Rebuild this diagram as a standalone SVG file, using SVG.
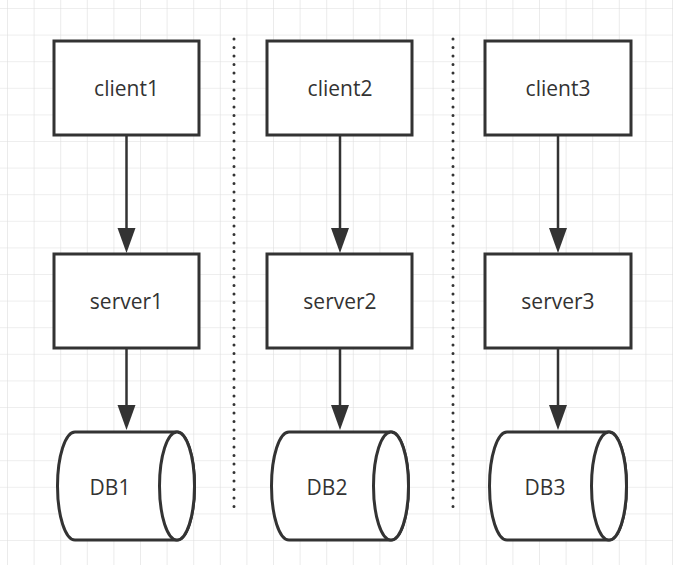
<svg xmlns="http://www.w3.org/2000/svg" width="673" height="565" viewBox="0 0 673 565">
<defs>
<pattern id="grid" x="7" y="8" width="26.6" height="26.6" patternUnits="userSpaceOnUse">
<path d="M0 0H26.6M0 0V26.6" fill="none" stroke="#dedede" stroke-width="1.2"/>
</pattern>
</defs>
<style>
.box{fill:#fff;stroke:#333;stroke-width:3}
.t{font-family:"Open Sans","Noto Sans",sans-serif;font-size:21px;fill:#333;text-anchor:middle;dominant-baseline:central}
.ln{stroke:#333;stroke-width:2.5;fill:none}
.ah{fill:#333}
.dot{stroke:#333;stroke-width:3;stroke-dasharray:0 8.5;stroke-linecap:round}
</style>
<rect width="673" height="565" fill="#fff"/>
<rect width="673" height="565" fill="url(#grid)"/>
<g id="separators">
<line class="dot" x1="234" y1="39" x2="234" y2="515"/>
<line class="dot" x1="453" y1="39" x2="453" y2="515"/>
</g>
<g id="connectors">
<line class="ln" x1="126.5" y1="136" x2="126.5" y2="230"/><path class="ah" d="M117.5 228H135.5L126.5 253z"/>
<line class="ln" x1="126.5" y1="349" x2="126.5" y2="408"/><path class="ah" d="M117.5 405H135.5L126.5 430z"/>
<line class="ln" x1="340" y1="136" x2="340" y2="230"/><path class="ah" d="M331 228H349L340 253z"/>
<line class="ln" x1="340" y1="349" x2="340" y2="408"/><path class="ah" d="M331 405H349L340 430z"/>
<line class="ln" x1="558" y1="136" x2="558" y2="230"/><path class="ah" d="M549 228H567L558 253z"/>
<line class="ln" x1="558" y1="349" x2="558" y2="408"/><path class="ah" d="M549 405H567L558 430z"/>
</g>
<g id="client1"><rect class="box" x="54" y="41" width="145" height="94"/><text class="t" x="126.5" y="88">client1</text></g>
<g id="client2"><rect class="box" x="267" y="41" width="145" height="94"/><text class="t" x="340" y="88">client2</text></g>
<g id="client3"><rect class="box" x="485" y="41" width="146" height="94"/><text class="t" x="558" y="88">client3</text></g>
<g id="server1"><rect class="box" x="54" y="254" width="145" height="94"/><text class="t" x="126.5" y="301">server1</text></g>
<g id="server2"><rect class="box" x="267" y="254" width="145" height="94"/><text class="t" x="340" y="301">server2</text></g>
<g id="server3"><rect class="box" x="485" y="254" width="146" height="94"/><text class="t" x="558" y="301">server3</text></g>
<g id="db1"><path class="box" d="M75 432H177A17.5 54 0 0 1 177 540H75A17.5 54 0 0 1 75 432z"/><ellipse class="box" cx="177" cy="486" rx="17.5" ry="54"/><text class="t" x="110" y="487">DB1</text></g>
<g id="db2"><path class="box" d="M289 432H391A17.5 54 0 0 1 391 540H289A17.5 54 0 0 1 289 432z"/><ellipse class="box" cx="391" cy="486" rx="17.5" ry="54"/><text class="t" x="327" y="487">DB2</text></g>
<g id="db3"><path class="box" d="M507 432H609A17.5 54 0 0 1 609 540H507A17.5 54 0 0 1 507 432z"/><ellipse class="box" cx="609" cy="486" rx="17.5" ry="54"/><text class="t" x="545" y="487">DB3</text></g>
</svg>
